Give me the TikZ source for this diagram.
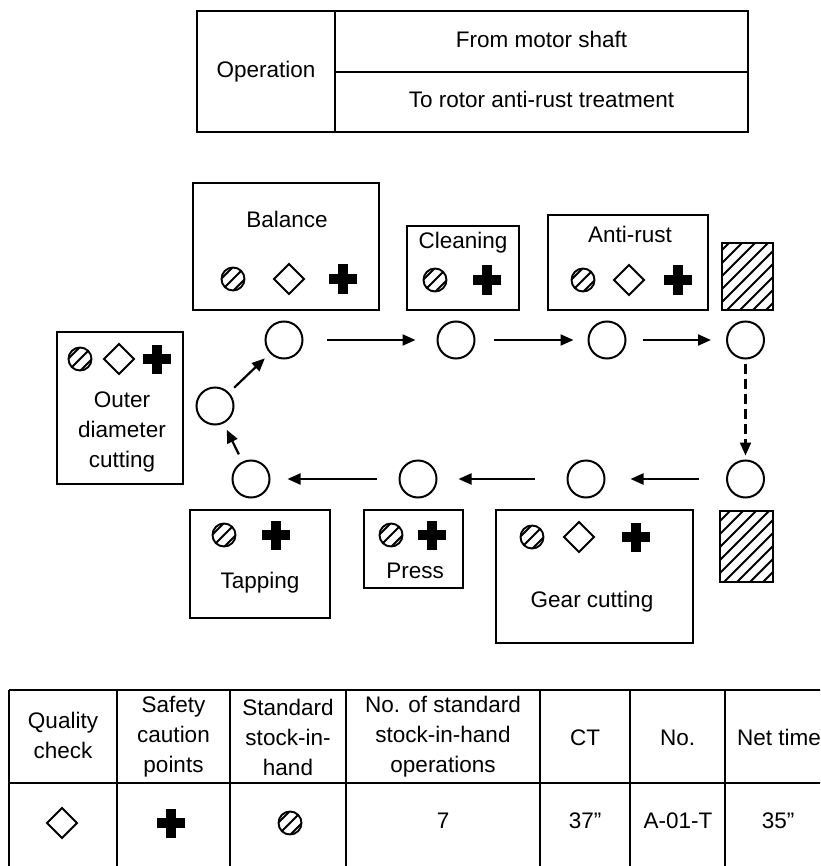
\documentclass[tikz,border=0pt]{standalone}
\usepackage{fontspec}
\setmainfont{Liberation Sans}
\usetikzlibrary{arrows.meta}

\tikzset{
  % symbol for standard stock-in-hand: circle with diagonal hatching
  pics/stockmark/.style={code={
    \begin{scope}
      \clip (0,0) circle[radius=11.5];
      \foreach \d in {-6,0,6}
        \draw[line width=1.9pt] (-20+\d,20+\d) -- (20+\d,-20+\d);
    \end{scope}
    \draw[line width=1.9pt] (0,0) circle[radius=11.5];
  }},
  % symbol for quality check: open diamond
  pics/qualitymark/.style={code={
    \draw[line width=1.9pt, line join=miter] (0,-15) -- (15,0) -- (0,15) -- (-15,0) -- cycle;
  }},
  % symbol for safety caution points: solid cross
  pics/safetymark/.style={code={
    \fill (-14,-5) rectangle (14,5);
    \fill (-5,-14.5) rectangle (5,14.5);
  }},
}

\begin{document}
\begin{tikzpicture}[x=1pt,y=-1pt,
  lbl/.style={font=\fontsize{22.5}{30}\selectfont, inner sep=0pt, text height=16pt, text depth=4.7pt},
  mlbl/.style={font=\fontsize{22.5}{30}\selectfont, inner sep=0pt, align=center},
  rule/.style={line width=2pt},
  station/.style={draw, circle, line width=2pt, minimum size=37pt, inner sep=0pt},
  flow/.style={line width=2.2pt, -{Triangle[length=13pt,width=11pt]}},
  shade/.style={line width=1.9pt},
]
\useasboundingbox (0,0) rectangle (820,866);
\clip (0,0) rectangle (820,866);

% ---- operation header ----
\draw[rule] (197,11) rectangle (748,132);
\draw[rule] (335,11) -- (335,132);
\draw[rule] (335,72) -- (748,72);
\node[lbl] (op) at (266,71.5) {Operation};
\node[lbl] (from) at (541.5,41.5) {From motor shaft};
\node[lbl] (to) at (541.5,102) {To rotor anti-rust treatment};

% ---- process boxes ----
\draw[rule] (193,183) rectangle (379,310);
\node[lbl] (balance) at (287,222) {Balance};
\pic at (233,279) {stockmark};
\pic at (289,279) {qualitymark};
\pic at (343,279) {safetymark};

\draw[rule] (407,226) rectangle (519,310);
\node[lbl] (cleaning) at (463,243) {Cleaning};
\pic at (435,280) {stockmark};
\pic at (487,280) {safetymark};

\draw[rule] (548,215) rectangle (708,310);
\node[lbl] (antirust) at (630,237) {Anti-rust};
\pic at (583,280) {stockmark};
\pic at (629,280) {qualitymark};
\pic at (678,280) {safetymark};

\draw[rule] (57,332) rectangle (183,484);
\node[mlbl] (outer) at (122,432) {Outer\\diameter\\cutting};
\pic at (80,359) {stockmark};
\pic at (119,359) {qualitymark};
\pic at (157,359) {safetymark};

\draw[rule] (190,510) rectangle (330,618);
\node[lbl] (tapping) at (260,583) {Tapping};
\pic at (224,535) {stockmark};
\pic at (276,535) {safetymark};

\draw[rule] (364,510) rectangle (463,588);
\node[lbl] (press) at (415,573) {Press};
\pic at (391,535) {stockmark};
\pic at (432,535) {safetymark};

\draw[rule] (496,510) rectangle (693,643);
\node[lbl] (gear) at (592,602) {Gear cutting};
\pic at (532,537) {stockmark};
\pic at (579,537) {qualitymark};
\pic at (636,537) {safetymark};

% ---- hatched stock areas ----
\begin{scope}
  \clip (722,243) rectangle (773,310);
  \foreach \k in {-7,...,7}
    \draw[shade] (747.5+\k*13-60,276.5+60) -- (747.5+\k*13+60,276.5-60);
\end{scope}
\draw[rule] (722,243) rectangle (773,310);
\begin{scope}
  \clip (720,511) rectangle (773,582);
  \foreach \k in {-7,...,7}
    \draw[shade] (746.5+\k*13-60,546.5+60) -- (746.5+\k*13+60,546.5-60);
\end{scope}
\draw[rule] (720,511) rectangle (773,582);

% ---- work stations ----
\node[station] (t1) at (284,340) {};
\node[station] (t2) at (456,340) {};
\node[station] (t3) at (607,340) {};
\node[station] (t4) at (745.5,340) {};
\node[station] (m)  at (215,406) {};
\node[station] (b1) at (251,479) {};
\node[station] (b2) at (418,479) {};
\node[station] (b3) at (586,479) {};
\node[station] (b4) at (745.5,479) {};

% ---- flow of work ----
\draw[flow, shorten <=23pt, shorten >=21pt] (t1) -- (t2);
\draw[flow, shorten <=18pt, shorten >=14pt] (t2) -- (t3);
\draw[flow, shorten <=16pt, shorten >=15pt] (t3) -- (t4);
\draw[flow, dash pattern=on 10pt off 5pt, shorten <=4pt, shorten >=4pt] (t4) -- (b4);
\draw[flow, shorten <=27pt, shorten >=25pt] (b4) -- (b3);
\draw[flow, shorten <=32pt, shorten >=21pt] (b3) -- (b2);
\draw[flow, shorten <=22pt, shorten >=17pt] (b2) -- (b1);
\draw[flow, shorten <=8pt, shorten >=7pt] (b1) -- (m);
\draw[flow, shorten <=7pt, shorten >=7pt] (m) -- (t1);

% ---- summary table ----
\draw[rule] (9,690) -- (840,690);
\draw[rule] (9,783) -- (840,783);
\foreach \cx in {9,117,230,346,540,630,725}
  \draw[rule] (\cx,690) -- (\cx,880);
\node[mlbl] (hq) at (63,735) {Quality\\check};
\node[mlbl] (hs) at (173.5,737) {Safety\\caution\\points};
\node[mlbl] (hk) at (288,737) {Standard\\stock-in-\\hand};
\node[mlbl] (hn) at (443,737) {No. of standard\\stock-in-hand\\operations};
\node[lbl] (hct) at (585,740) {CT};
\node[lbl] (hno) at (677.5,740) {No.};
\node[lbl] (hnet) at (779,740) {Net time};
\pic at (62,823) {qualitymark};
\pic at (171,823) {safetymark};
\pic at (290,823) {stockmark};
\node[lbl] (vn) at (443,823) {7};
\node[lbl] (vct) at (585,823) {37"};
\node[lbl] (vno) at (678,823) {A-01-T};
\node[lbl] (vnet) at (778,823) {35"};
\end{tikzpicture}
\end{document}
